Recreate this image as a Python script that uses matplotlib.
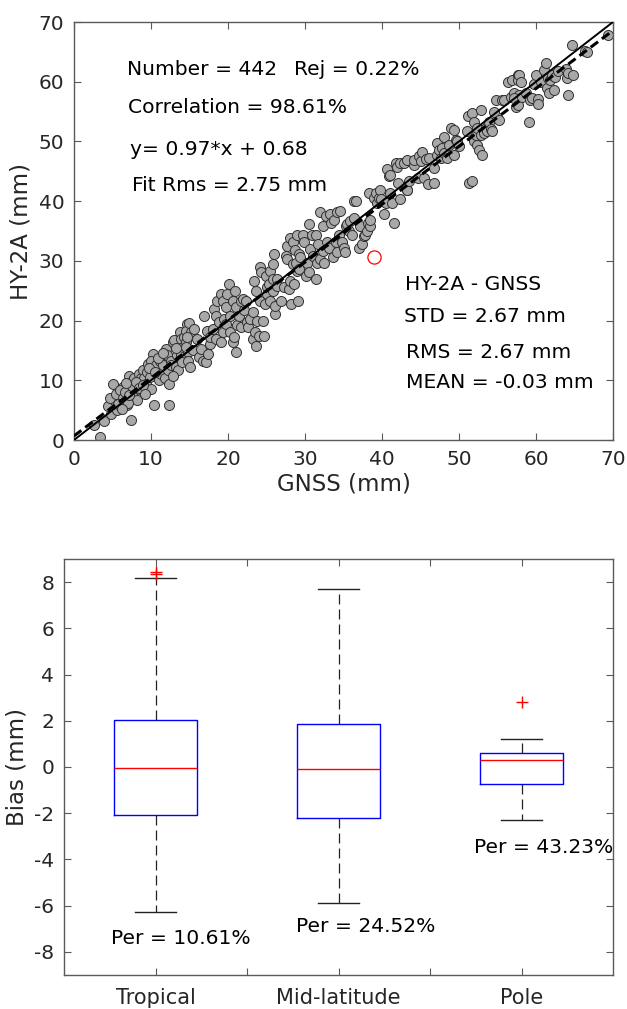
import matplotlib
matplotlib.use('Agg')
import matplotlib.pyplot as plt
import numpy as np

# ---------------- data: scatter (GNSS vs HY-2A, mm) ----------------
gnss = [3.4, 2.6, 3.9, 4.8, 4.4, 5.6, 5.2, 4.7, 5.1, 5.5, 6.4, 6.7, 6.9, 7.1, 7.6, 7.8, 8.0, 7.4, 7.6, 8.2,
        8.4, 8.7, 8.9, 9.1, 9.3, 9.5, 9.6, 9.9, 10.0, 10.2, 10.0, 10.4, 10.7, 11.0, 11.2, 11.3, 11.6, 11.8, 12.0, 12.1,
        12.2, 12.4, 12.3, 12.6, 12.6, 12.8, 13.0, 13.2, 13.4, 13.5, 13.8, 13.9, 13.9, 14.2, 14.3, 14.5, 14.7, 14.8,
        6.0, 6.3, 6.6, 7.0, 7.2, 7.5, 8.1, 8.5, 8.9, 9.2, 9.8, 10.5, 10.9, 11.5, 12.9, 13.3, 14.0, 14.6, 5.7, 6.2, 6.8,
        14.9, 15.2, 14.7, 14.6, 15.4, 14.8, 15.1, 15.6, 16.0, 16.2, 16.5, 16.7, 16.9, 17.1, 17.3, 17.4, 17.7, 17.7, 18.0,
        18.2, 18.4, 18.5, 18.6, 18.8, 19.1, 19.1, 19.3, 19.4, 19.5, 19.7, 19.8, 19.9, 20.1, 20.3, 20.3, 20.6, 20.7, 20.8,
        20.9, 21.0, 21.1, 21.2, 21.4, 21.7, 21.7, 21.9, 22.1, 22.3, 22.5, 22.6, 22.9, 23.2, 23.3, 23.4, 23.5, 23.6, 23.7,
        23.8, 24.0, 24.2, 24.2, 24.3, 24.5, 24.7, 24.8, 24.9, 25.0, 25.1, 25.3, 25.5, 25.5, 25.8, 25.8, 25.9, 26.0, 26.1,
        26.1, 26.3, 26.4, 26.9, 27.3, 27.5, 27.6, 27.7, 27.9, 28.1, 28.1, 28.2, 28.4, 28.5, 28.6, 28.7, 28.9, 29.0, 29.1,
        29.2,
        28.8, 29.2, 29.4, 29.7, 29.9, 30.1, 30.3, 30.5, 30.5, 30.7, 30.9, 31.1, 31.4, 31.4, 31.6, 31.7, 31.9, 32.0, 32.3,
        32.4, 32.5, 32.7, 32.9, 33.1, 33.3, 33.4, 33.7, 33.8, 34.0, 34.2, 34.2, 34.4, 34.6, 34.8, 35.1, 35.2, 35.3, 35.5,
        35.7, 35.9, 36.1, 36.4, 36.4, 36.6, 37.0, 37.2, 37.4, 37.7, 37.8, 38.0, 38.2, 38.3, 38.5, 38.5, 39.0, 39.2, 39.4,
        39.6, 39.8, 39.9, 40.2, 40.5, 40.7, 40.9, 41.1, 41.1, 41.3, 41.6, 41.8, 42.0, 42.1, 42.3, 42.4, 42.9, 43.3, 43.3,
        43.3, 43.5, 44.1, 44.2, 44.7, 44.8, 45.0, 45.2, 45.5, 45.7, 46.0, 46.1, 46.7, 46.8, 47.2, 47.2, 47.4, 47.6, 47.8,
        48.1, 48.1, 48.5, 48.7, 48.9, 49.3, 49.4, 49.6, 49.8, 50.0, 51.1, 51.3, 51.7, 51.2, 51.7, 51.9, 51.9, 52.2, 52.3,
        52.4, 52.6, 52.8, 52.8, 53.0, 53.2, 53.5, 53.7, 53.9, 54.1, 54.3, 54.5, 54.8, 55.2, 55.6, 55.8, 56.3, 56.7, 56.9,
        57.1, 57.4, 57.6, 57.8,
        57.1, 57.6, 57.7, 57.8, 58.0, 58.2, 58.7, 59.1, 59.2, 59.5, 59.7, 60.0, 60.2, 60.3, 60.7, 61.0, 61.3, 61.4, 61.5,
        61.7, 61.8, 62.1, 62.3, 62.5, 62.8, 63.9, 64.0, 64.1, 64.2, 64.7, 64.8, 66.4, 69.4, 66.6]
hy2a = [0.5, 2.5, 3.2, 4.4, 5.7, 5.0, 6.7, 7.1, 9.3, 7.7, 8.8, 6.7, 5.8, 10.8, 10.0, 10.4, 8.3, 3.4, 7.2, 6.7,
        11.1, 10.3, 11.7, 10.4, 9.4, 11.4, 12.7, 10.6, 8.6, 14.4, 13.3, 5.8, 12.5, 10.0, 13.3, 11.1, 12.5, 10.3, 15.3, 14.2,
        11.7, 9.4, 5.8, 13.3, 12.5, 16.4, 16.7, 12.2, 14.2, 11.7, 18.1, 16.9, 14.2, 15.6, 17.2, 16.4, 19.4, 14.7,
        8.4, 7.0, 8.0, 6.2, 7.6, 9.0, 9.7, 8.7, 9.2, 7.7, 12.0, 11.4, 13.8, 14.5, 10.8, 15.4, 13.1, 18.3, 6.0, 5.2, 9.6,
        19.6, 18.1, 17.2, 15.6, 15.0, 13.3, 12.2, 18.6, 16.9, 13.9, 15.3, 13.3, 20.8, 13.1, 18.3, 14.4, 16.1, 17.2, 18.6,
        21.9, 20.8, 16.9, 23.3, 19.7, 24.4, 16.4, 18.1, 23.3, 20.3, 22.2, 19.4, 24.4, 26.1, 20.8, 18.1, 16.4, 23.3, 17.2,
        25.0, 22.2, 14.7, 19.2, 20.8, 23.3, 18.9, 23.6, 21.7, 23.3, 19.7, 18.9, 20.3, 21.4, 16.9, 26.7, 18.1, 15.8, 25.0,
        20.0, 17.5, 28.9, 23.3, 28.1, 20.0, 17.5, 22.8, 27.5, 25.6, 24.4, 26.1, 28.3, 23.3, 29.4, 26.9, 25.0, 31.1, 21.1,
        22.5, 26.9, 25.8, 23.3, 25.6, 30.8, 32.5, 30.3, 25.3, 33.9, 26.7, 22.8, 29.4, 33.1, 26.1, 31.9, 28.3, 34.4, 23.3,
        31.1,
        29.7, 28.6, 30.6, 34.4, 33.1, 27.5, 29.7, 28.1, 36.1, 32.0, 34.4, 30.8, 34.4, 26.9, 29.7, 32.8, 30.3, 38.1, 31.7,
        35.8, 29.7, 37.5, 33.1, 32.2, 37.8, 36.4, 30.6, 36.9, 33.1, 31.4, 38.1, 34.4, 38.3, 33.1, 32.2, 31.4, 35.8, 36.1,
        35.0, 36.7, 34.4, 40.0, 37.2, 40.0, 32.2, 35.8, 32.8, 34.2, 34.4, 35.0, 36.4, 41.4, 35.8, 36.9, 40.6, 41.4, 39.7,
        40.6, 41.9, 40.3, 37.8, 39.7, 45.3, 44.2, 41.4, 44.4, 39.7, 36.4, 46.4, 45.8, 43.1, 40.3, 46.4, 46.4, 41.9, 46.9,
        41.9, 43.3, 46.1, 46.9, 43.9, 47.5, 46.7, 48.3, 43.9, 47.0, 42.8, 47.2, 45.6, 43.1, 49.7, 47.8, 48.6, 47.2, 48.9,
        48.1, 50.8, 47.2, 49.4, 52.2, 51.9, 47.8, 50.3, 50.0, 49.2, 51.7, 43.1, 43.3, 54.2, 54.7, 53.3, 50.0, 51.1, 49.4,
        52.2, 48.6, 55.3, 51.1, 47.8, 51.4, 52.2, 51.7, 53.3, 52.0, 51.7, 55.0, 56.9, 53.6, 56.9, 56.9, 60.0, 57.5, 60.3,
        58.1, 55.8, 61.1, 57.8,
        57.2, 56.1, 60.3, 61.1, 60.0, 57.5, 58.1, 53.2, 56.9, 57.2, 59.7, 61.1, 57.1, 56.3, 60.0, 61.9, 63.2, 58.9, 60.6,
        58.1, 60.3, 61.1, 58.6, 60.8, 61.8, 62.1, 60.7, 57.8, 61.4, 66.1, 61.1, 65.2, 67.8, 65.0]
rejected_gnss = [39.0]
rejected_hy2a = [30.6]
fit_slope = 0.97
fit_intercept = 0.68
axis_range = [0, 70]
axis_ticks = [0, 10, 20, 30, 40, 50, 60, 70]

stats_left = ['Number = 442', 'Correlation = 98.61%', 'y= 0.97*x + 0.68', 'Fit Rms = 2.75 mm']
stat_rej = 'Rej = 0.22%'
stats_right = ['HY-2A - GNSS', 'STD = 2.67 mm', 'RMS = 2.67 mm', 'MEAN = -0.03 mm']

# ---------------- data: box plot (bias, mm) ----------------
regions = ['Tropical', 'Mid-latitude', 'Pole']
box_q1 = [-2.08, -2.22, -0.72]
box_med = [-0.04, -0.10, 0.30]
box_q3 = [2.02, 1.86, 0.60]
box_whislo = [-6.28, -5.90, -2.28]
box_whishi = [8.16, 7.72, 1.20]
box_fliers = [[8.34, 8.42], [], [2.82]]
per_labels = ['Per = 10.61%', 'Per = 24.52%', 'Per = 43.23%']
bias_ticks = [-8, -6, -4, -2, 0, 2, 4, 6, 8]

plt.rcParams['font.family'] = ['DejaVu Sans']
plt.rcParams['axes.unicode_minus'] = False

fig = plt.figure(figsize=(6.27, 10.09), dpi=100)
spine_c = '#5a5a5a'
lab_c = '#262626'

# ---------------- top: scatter ----------------
ax1 = fig.add_axes([74/627, 1 - 440/1009, 539/627, 418/1009])
ax1.scatter(gnss, hy2a, s=52, facecolor='#a8a8a8', edgecolor='#303030', linewidths=0.7, zorder=2)
ax1.plot(rejected_gnss, rejected_hy2a, 'o', mfc='none', mec='red', ms=9.5, mew=0.9, zorder=3)
xr = np.array(axis_range, dtype=float)
ax1.plot(xr, fit_slope * xr + fit_intercept, color='black', lw=2.2, ls=(0, (3, 1.6)), zorder=4)
ax1.plot(xr, xr, color='black', lw=1.4, zorder=5)
ax1.set_xlim(axis_range)
ax1.set_ylim(axis_range)
ax1.set_xticks(axis_ticks)
ax1.set_yticks(axis_ticks)
ax1.set_xlabel('GNSS (mm)', fontsize=16.5, labelpad=3)
ax1.set_ylabel('HY-2A (mm)', fontsize=16.5, labelpad=4)

tx_left = [6.9, 7.0, 7.3, 7.5]
ty_left = [62.1, 55.6, 48.6, 42.7]
for s, x, y in zip(stats_left, tx_left, ty_left):
    ax1.text(x, y, s, fontsize=14.6, ha='left', va='center')
ax1.text(28.6, 62.1, stat_rej, fontsize=14.6, ha='left', va='center')
tx_right = [43.0, 42.9, 43.1, 43.1]
ty_right = [26.0, 20.6, 14.7, 9.7]
for s, x, y in zip(stats_right, tx_right, ty_right):
    ax1.text(x, y, s, fontsize=14.6, ha='left', va='center')

# ---------------- bottom: box plot ----------------
ax2 = fig.add_axes([64/627, 34/1009, 549/627, 416/1009])
stats = []
for i in range(len(regions)):
    stats.append(dict(med=box_med[i], q1=box_q1[i], q3=box_q3[i],
                      whislo=box_whislo[i], whishi=box_whishi[i],
                      fliers=box_fliers[i], label=regions[i]))
ax2.bxp(stats, positions=[1, 2, 3], widths=0.45, capwidths=0.225,
        boxprops=dict(color='#0000ff', lw=1.0),
        medianprops=dict(color='red', lw=1.0),
        whiskerprops=dict(color='#222222', lw=0.9, ls=(0, (8, 4))),
        capprops=dict(color='#222222', lw=1.0),
        flierprops=dict(marker='+', markeredgecolor='red', markersize=8, linestyle='none', mew=1.0))
ax2.set_xlim(0.5, 3.5)
ax2.set_ylim(-9, 9)
ax2.set_yticks(bias_ticks)
ax2.set_xticks([1, 1.5, 2, 2.5, 3])
ax2.set_xticklabels([regions[0], '', regions[1], '', regions[2]])
ax2.set_ylabel('Bias (mm)', fontsize=16.5, labelpad=4)

per_x = [1.14, 2.15, 3.12]
per_y = [-7.4, -6.9, -3.5]
for s, x, y in zip(per_labels, per_x, per_y):
    ax2.text(x, y, s, fontsize=14.6, ha='center', va='center')

for ax in (ax1, ax2):
    for sp in ax.spines.values():
        sp.set_color(spine_c)
        sp.set_linewidth(1.0)
    ax.tick_params(direction='in', top=True, right=True, length=5, width=0.8,
                   color=spine_c, labelcolor=lab_c, labelsize=14.5, pad=7)
    ax.yaxis.label.set_color(lab_c)
    ax.xaxis.label.set_color(lab_c)
ax2.tick_params(axis='x', pad=9, labelsize=15)

fig.savefig('out.png', dpi=100)
